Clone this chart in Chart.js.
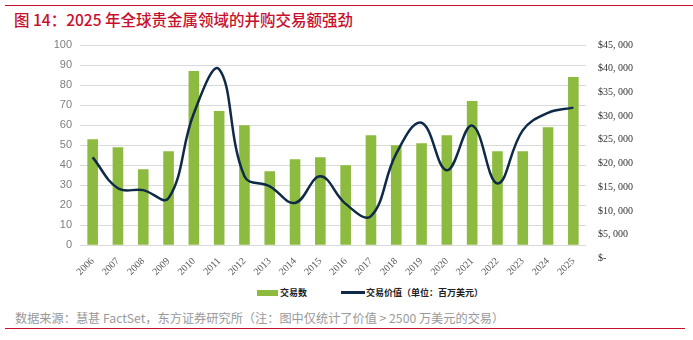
<!DOCTYPE html>
<html>
<head>
<meta charset="utf-8">
<script src="https://cdn.jsdelivr.net/npm/chart.js@4"></script>
<style>
  body { margin: 0; width: 693px; height: 340px; background: #fff; position: relative; overflow: hidden; }
  .topline { position: absolute; left: 5px; right: 0; top: 5px; border-top: 1.5px solid #c8102e; }
  .title { position: absolute; left: 14px; top: 8px; font: 500 15.5px "Noto Sans CJK SC", sans-serif; color: #c8102e; }
  .src { position: absolute; left: 15px; top: 309px; font: 12.2px "Noto Sans CJK SC", sans-serif; color: #999; }
  .botline { position: absolute; left: 5px; width: 680px; top: 328px; border-top: 1.5px solid #c8102e; }
  #wrap { position: absolute; left: 0; top: 27px; width: 693px; height: 253px; }
  .legend { position: absolute; top: 285px; left: 257px; font: 600 9px "Noto Sans CJK SC", sans-serif; color: #222; white-space: nowrap; }
  .legend span { display: inline-block; vertical-align: middle; }
  .sw-bar { width: 21px; height: 6px; background: #8dbb3f; margin-right: 2px; }
  .sw-line { width: 24px; height: 3px; background: #0e2a47; margin-left: 34px; margin-right: 1px; }
</style>
</head>
<body>
<div class="topline"></div>
<div class="title">图 14：2025 年全球贵金属领域的并购交易额强劲</div>
<div id="wrap"><canvas id="chart"></canvas></div>
<div class="legend"><span class="sw-bar"></span><span>交易数</span><span class="sw-line"></span><span>交易价值（单位：百万美元）</span></div>
<div class="src">数据来源：慧甚 FactSet，东方证券研究所（注：图中仅统计了价值 &gt; 2500 万美元的交易）</div>
<div class="botline"></div>
<script>
const years = ['2006','2007','2008','2009','2010','2011','2012','2013','2014','2015',
               '2016','2017','2018','2019','2020','2021','2022','2023','2024','2025'];
const dealCount = [53, 49, 38, 47, 87, 67, 60, 37, 43, 44, 40, 55, 50, 51, 55, 72, 47, 47, 59, 84];
const dealValue = [21300, 14800, 14400, 12700, 30600, 39900, 17300, 15200, 11700, 17300,
                   11500, 8900, 22100, 28600, 18600, 28000, 15800, 27000, 30700, 31800];
const valueTicks = [0, 5000, 10000, 15000, 20000, 25000, 30000, 35000, 40000, 45000];

function fmtDollar(v) {
  if (v === 0) return '$-';
  const s = String(v);
  return '$' + s.slice(0, s.length - 3) + ', ' + s.slice(-3);
}

const ctx = document.getElementById('chart').getContext('2d');
new Chart(ctx, {
  type: 'bar',
  data: {
    labels: years,
    datasets: [
      {
        label: '交易价值（单位：百万美元）',
        type: 'line',
        data: dealValue,
        yAxisID: 'y1',
        borderColor: '#0e2a47',
        borderWidth: 2.5,
        pointRadius: 0,
        tension: 0.4,
        order: 0
      },
      {
        label: '交易数',
        data: dealCount,
        yAxisID: 'y',
        backgroundColor: '#8dbb3f',
        categoryPercentage: 1,
        barPercentage: 0.42,
        order: 1
      }
    ]
  },
  options: {
    responsive: true,
    maintainAspectRatio: false,
    animation: false,
    layout: { padding: { left: 10, right: 17, top: 7, bottom: 0 } },
    plugins: {
      legend: { display: false },
      tooltip: { enabled: false }
    },
    scales: {
      x: {
        grid: { display: false },
        border: { display: false },
        ticks: {
          color: '#595959',
          maxRotation: 45,
          minRotation: 45,
          padding: 2,
          font: { family: '"Liberation Serif"', size: 10 }
        }
      },
      y: {
        position: 'left',
        min: 0,
        max: 100,
        afterFit: (s) => { s.width = 70; },
        grid: { color: '#d9d9d9', lineWidth: 1, drawTicks: false },
        border: { display: false },
        ticks: {
          stepSize: 10,
          padding: 8,
          color: '#7f7f7f',
          font: { family: '"Liberation Sans"', size: 11 }
        }
      },
      y1: {
        position: 'right',
        min: 2750,
        max: 45000,
        afterFit: (s) => { s.width = 90; },
        afterBuildTicks: (s) => { s.ticks = valueTicks.map(v => ({ value: v })); },
        grid: { display: false, drawTicks: false },
        border: { display: false },
        ticks: {
          padding: 12,
          color: '#333',
          font: { family: '"Liberation Serif"', size: 10 },
          callback: (v) => fmtDollar(v)
        }
      }
    }
  }
});
</script>
</body>
</html>
